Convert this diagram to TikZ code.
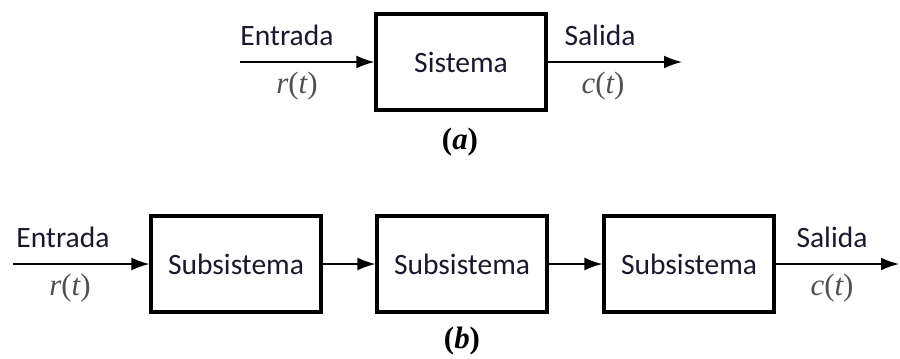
\documentclass[tikz,border=0pt]{standalone}
\usepackage{fontspec}
\setmainfont{Carlito}
\newfontfamily\mathserif{Liberation Serif}
\usepackage{xcolor}
\usetikzlibrary{arrows.meta, positioning}
\definecolor{signalgray}{RGB}{80,80,80}
\definecolor{textdark}{RGB}{25,25,45}
\newcommand{\sig}[1]{{\mathserif\itshape #1}{\mathserif(}{\mathserif\itshape t}{\mathserif)}}
\newcommand{\figpart}[1]{{\mathserif\bfseries(\textit{#1})}}

\begin{document}
\begin{tikzpicture}[
    x=0.025cm, y=-0.025cm,
    block/.style={draw, line width=2.2pt, minimum width=4.25cm, minimum height=2.4cm, font=\fontsize{21}{24}\selectfont, text=textdark},
    signal/.style={-{Latex[length=4.5mm, width=3.2mm]}, line width=1.1pt},
    label/.style={font=\fontsize{21}{24}\selectfont, text=textdark},
    var/.style={font=\fontsize{22}{24}\selectfont, text=signalgray},
    caption/.style={font=\fontsize{22}{24}\selectfont}
]
    \useasboundingbox (0,0) rectangle (900,358);

    % (a) single system
    \node[block] (sys) at (461,62) {Sistema};
    \coordinate (ina) at (240,62);
    \coordinate (outa) at (682,62);
    \draw[signal] (ina) -- (sys);
    \draw[signal] (sys) -- (outa);
    \node[label] (entra) at (287,35) {Entrada};
    \node[var] (ra) at (297,86) {\sig{r}};
    \node[label] (salea) at (600,35) {Salida};
    \node[var] (ca) at (603,86) {\sig{c}};
    \node[caption] (capa) at (460,142) {\figpart{a}};

    % (b) chain of subsystems
    \node[block] (sub1) at (236,264) {Subsistema};
    \node[block] (sub2) at (462,264) {Subsistema};
    \node[block] (sub3) at (689,264) {Subsistema};
    \coordinate (inb) at (13,264);
    \coordinate (outb) at (899,264);
    \draw[signal] (inb) -- (sub1);
    \draw[signal] (sub1) -- (sub2);
    \draw[signal] (sub2) -- (sub3);
    \draw[signal] (sub3) -- (outb);
    \node[label] (entrb) at (63,237) {Entrada};
    \node[var] (rb) at (70,288) {\sig{r}};
    \node[label] (saleb) at (832,237) {Salida};
    \node[var] (cb) at (832,288) {\sig{c}};
    \node[caption] (capb) at (462,341) {\figpart{b}};
\end{tikzpicture}
\end{document}
